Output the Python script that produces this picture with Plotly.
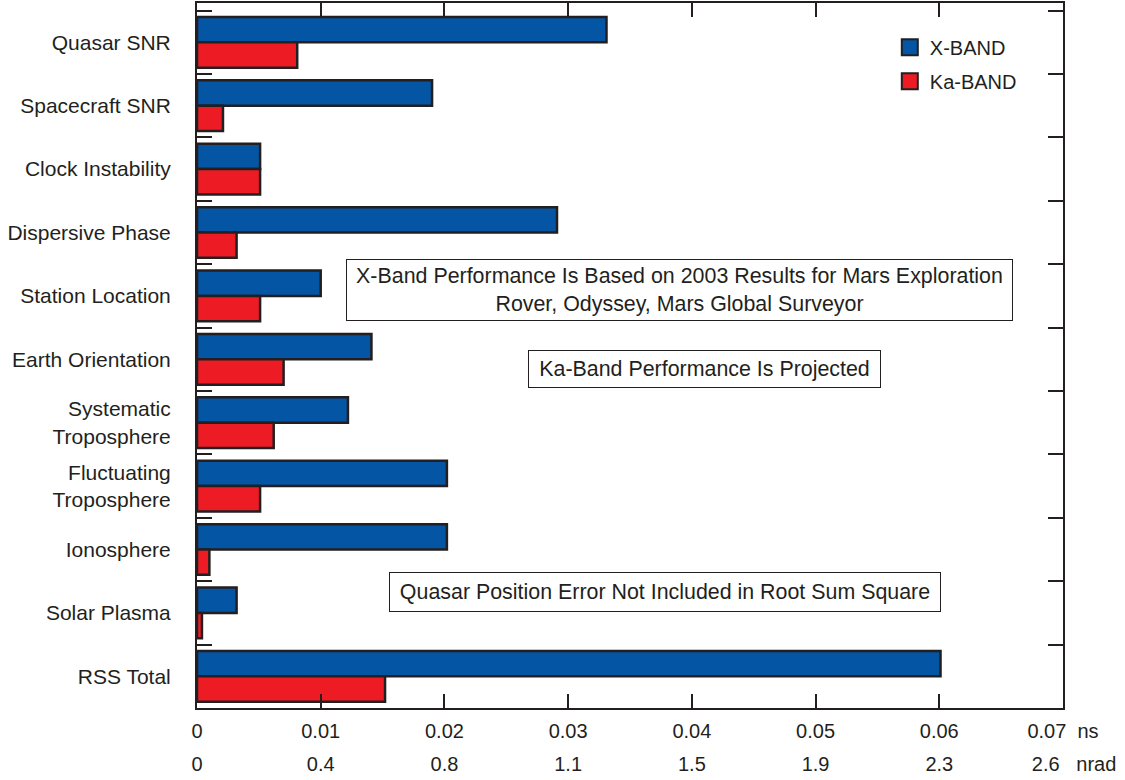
import plotly.graph_objects as go

categories = ["Quasar SNR", "Spacecraft SNR", "Clock Instability", "Dispersive Phase",
              "Station Location", "Earth Orientation", "Systematic<br>Troposphere",
              "Fluctuating<br>Troposphere", "Ionosphere", "Solar Plasma", "RSS Total"]
x_band = [0.0331, 0.0190, 0.0051, 0.0291, 0.0100, 0.0141, 0.0122, 0.0202, 0.0202, 0.0032, 0.0601]
ka_band = [0.0081, 0.0021, 0.0051, 0.0032, 0.0051, 0.0070, 0.0062, 0.0051, 0.0010, 0.0004, 0.0152]

ns_ticks = [0, 0.01, 0.02, 0.03, 0.04, 0.05, 0.06, 0.07]
ns_labels = ["0", "0.01", "0.02", "0.03", "0.04", "0.05", "0.06", "0.07"]
nrad_labels = ["0", "0.4", "0.8", "1.1", "1.5", "1.9", "2.3", "2.6"]
ns_unit = "ns"
nrad_unit = "nrad"
series_names = ["X-BAND", "Ka-BAND"]

DARK = "#231f20"
BLUE = "#0455a4"
RED = "#ed1c24"
FONT = "Liberation Sans, Arial, sans-serif"

NB = "\u00a0"
ns_text = ns_labels[:-1] + [ns_labels[-1] + NB * 2 + ns_unit]
nrad_text = nrad_labels[:-1] + [NB * 4 + nrad_labels[-1] + NB * 3 + nrad_unit]

fig = go.Figure()
for name, vals, col, grp in [(series_names[0], x_band, BLUE, "x"),
                             (series_names[1], ka_band, RED, "ka")]:
    fig.add_trace(go.Bar(y=categories, x=vals, orientation="h", name=name,
                         marker=dict(color=col, line=dict(color=DARK, width=2.5)),
                         legendgroup=grp, showlegend=False))
    # legend-only entry with a larger square swatch
    fig.add_trace(go.Scatter(x=[None], y=[None], mode="markers", name=name,
                             marker=dict(symbol="square", size=16, color=col,
                                         line=dict(color=DARK, width=2)),
                             legendgroup=grp, showlegend=True))
# invisible trace to anchor the second (nrad) axis
fig.add_trace(go.Scatter(x=[0], y=[categories[0]], xaxis="x2", mode="markers",
                         marker=dict(opacity=0, size=1), showlegend=False, hoverinfo="skip"))

n = len(categories)
fig.update_layout(
    width=1125, height=780,
    margin=dict(l=197, r=62, t=3, b=72, autoexpand=False),
    paper_bgcolor="white", plot_bgcolor="white",
    font=dict(family=FONT, size=20, color=DARK),
    barmode="group", bargap=0.2, bargroupgap=0,
    showlegend=True,
    legend=dict(x=0.80, y=0.965, xanchor="left", yanchor="top",
                font=dict(size=20, color=DARK), traceorder="grouped",
                tracegroupgap=5, bgcolor="rgba(0,0,0,0)"),
    xaxis=dict(range=[0, 0.07], tickvals=ns_ticks, ticktext=ns_text,
               ticks="inside", ticklen=14, tickwidth=1.5, tickcolor=DARK,
               showline=True, linewidth=2, linecolor=DARK, mirror="ticks",
               showgrid=False, zeroline=False, ticklabelstandoff=4, automargin=False,
               tickfont=dict(size=20, color=DARK)),
    xaxis2=dict(range=[0, 0.07], overlaying="x", anchor="y", side="bottom",
                tickvals=ns_ticks, ticktext=nrad_text, ticks="", showline=False,
                showgrid=False, zeroline=False, ticklabelstandoff=42, automargin=False,
                tickfont=dict(size=20, color=DARK)),
    yaxis=dict(range=[n - 0.5, -0.62], ticks="inside", ticklen=15, tickwidth=1.5,
               tickcolor=DARK, tickson="boundaries",
               showline=True, linewidth=2, linecolor=DARK, mirror="ticks",
               showgrid=False, zeroline=False, ticklabelstandoff=20, automargin=False,
               tickfont=dict(size=21, color=DARK)),
)

box = dict(showarrow=False, bordercolor=DARK, borderwidth=1, bgcolor="white",
           font=dict(family=FONT, size=21.4, color=DARK), xref="x", yref="paper")
fig.add_annotation(text="X-Band Performance Is Based on 2003 Results for Mars Exploration<br>"
                        "Rover, Odyssey, Mars Global Surveyor",
                   x=0.0390, y=0.593, width=657, height=52, borderpad=4, **box)
fig.add_annotation(text="Ka-Band Performance Is Projected",
                   x=0.0410, y=0.481, width=343, height=28, borderpad=4, **box)
fig.add_annotation(text="Quasar Position Error Not Included in Root Sum Square",
                   x=0.0378, y=0.136, width=542, height=30, borderpad=4, **box)

fig.write_html("out.html", config={"displayModeBar": False},
               post_script="document.body.style.margin='0';")
